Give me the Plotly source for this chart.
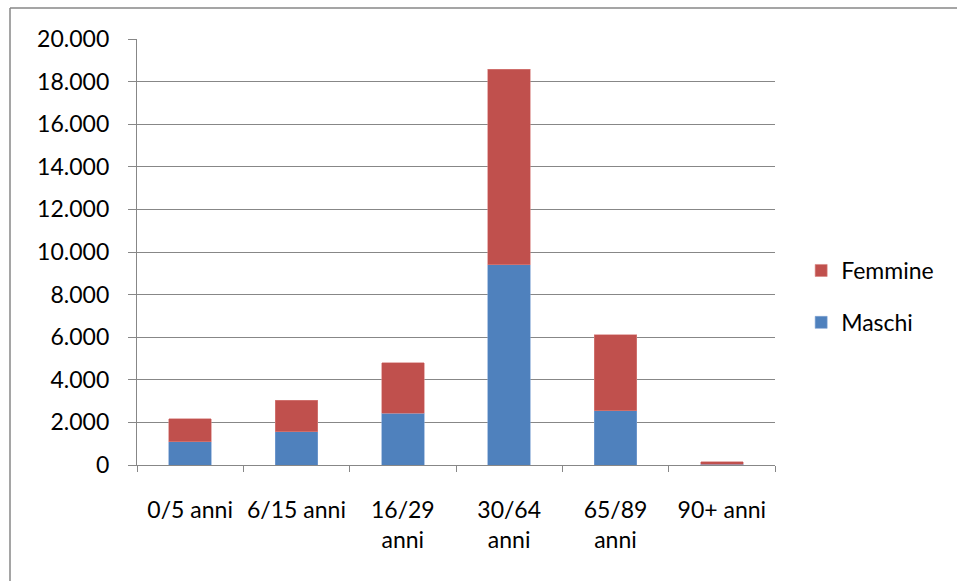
import plotly.graph_objects as go

# Popolazione per fascia d'età e sesso
categorie = ["0/5 anni", "6/15 anni", "16/29<br>anni", "30/64<br>anni", "65/89<br>anni", "90+ anni"]
maschi = [1100, 1570, 2430, 9410, 2540, 30]
femmine = [1065, 1475, 2370, 9170, 3570, 125]

BLU = "#4F81BD"
ROSSO = "#C0504D"
GRIGIO = "#878787"
FONT = "Lato"
FS = 23

fig = go.Figure()
fig.add_trace(go.Bar(name="Maschi", x=categorie, y=maschi, marker_color=BLU,
                     marker_line=dict(color="#7FA3D3", width=0.6),
                     legendgroup="m", legendrank=2))
fig.add_trace(go.Bar(name="Femmine", x=categorie, y=femmine, marker_color=ROSSO,
                     marker_line=dict(color="#D98482", width=0.6),
                     legendgroup="f", legendrank=1))

# plot area in pixels: x 137..775, y 39..465
L, R, T, B = 137, 182, 39, 116
W, H = 957 - L - R, 581 - T - B

def px_x(p):
    return (p - L) / W

def px_y(p):
    return (581 - B - p) / H

fig.update_layout(
    width=957, height=581,
    margin=dict(l=L, r=R, t=T, b=B, autoexpand=False),
    barmode="stack", bargap=0.6,
    separators=",.",
    paper_bgcolor="white", plot_bgcolor="white",
    font=dict(family=FONT, size=FS, color="#000000"),
    showlegend=True,
    legend=dict(x=1.041, y=0.3955, xanchor="left", yanchor="middle",
                traceorder="grouped", tracegroupgap=19,
                font=dict(family=FONT, size=FS), bgcolor="rgba(0,0,0,0)"),
    xaxis=dict(showline=True, linecolor=GRIGIO, linewidth=1.3,
               ticks="outside", tickson="boundaries", ticklen=6, tickcolor=GRIGIO,
               tickwidth=1.3, showgrid=False, ticklabelstandoff=24,
               tickangle=0, automargin=False,
               tickfont=dict(family=FONT, size=FS)),
    yaxis=dict(range=[0, 20000], dtick=2000, tickformat=",d",
               showline=True, linecolor=GRIGIO, linewidth=1.3,
               ticks="outside", ticklen=8, tickcolor=GRIGIO, tickwidth=1.3,
               showgrid=True, gridcolor=GRIGIO, gridwidth=1.3,
               zeroline=False, ticklabelstandoff=14, automargin=False,
               tickfont=dict(family=FONT, size=FS)),
    shapes=[
        # chart frame (open on the right and bottom)
        dict(type="line", xref="paper", yref="paper",
             x0=px_x(10), x1=px_x(960), y0=px_y(8), y1=px_y(8),
             line=dict(color=GRIGIO, width=1.5)),
        dict(type="line", xref="paper", yref="paper",
             x0=px_x(10), x1=px_x(10), y0=px_y(8), y1=px_y(585),
             line=dict(color=GRIGIO, width=1.5)),
    ],
)

fig.write_html("out.html")
